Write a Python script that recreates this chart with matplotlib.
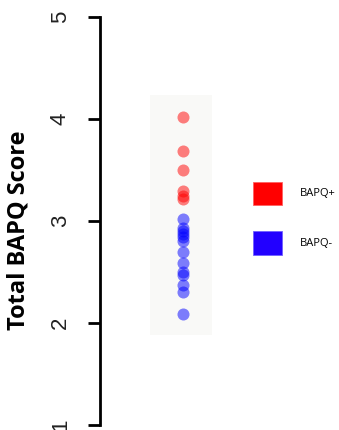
import matplotlib
matplotlib.use('Agg')
import matplotlib.pyplot as plt
from matplotlib.patches import Patch, Rectangle

# scores
pos_scores = [4.02, 3.69, 3.50, 3.29, 3.25, 3.22]
neg_scores = [3.02, 2.93, 2.90, 2.87, 2.84, 2.80, 2.70, 2.59, 2.50, 2.47, 2.37, 2.30, 2.09]
group_labels = ['BAPQ+', 'BAPQ-']
yticks = [1, 2, 3, 4, 5]

dpi = 100
fig = plt.figure(figsize=(339 / dpi, 430 / dpi), dpi=dpi)
ax = fig.add_axes([100 / 339, 5 / 430, 239 / 339, 408 / 430])

# faint box behind the dots
ax.add_patch(Rectangle((0.21, 1.88), 0.26, 2.36, color='#f9f9f7', zorder=0, lw=0))

x0 = 0.347
ax.scatter([x0] * len(pos_scores), pos_scores, s=75, color='#ff0000', alpha=0.5, lw=0, zorder=3)
ax.scatter([x0] * len(neg_scores), neg_scores, s=75, color='#0000ff', alpha=0.5, lw=0, zorder=3)

ax.set_xlim(0, 1)
ax.set_ylim(1, 5)
ax.set_yticks(yticks)
ax.set_yticklabels([str(t) for t in yticks], rotation=90, va='center',
                   fontsize=16, family='Liberation Sans', color='#222222')
ax.tick_params(axis='y', length=9, width=2, pad=12)
ax.set_xticks([])
for s in ['top', 'right', 'bottom']:
    ax.spines[s].set_visible(False)
ax.spines['left'].set_linewidth(2)
ax.spines['left'].set_bounds(1, 5)

ax.set_ylabel('Total BAPQ Score', fontsize=17, fontweight='bold', family='Open Sans')
ax.yaxis.set_label_coords(-0.29, 0.478)

handles = [Patch(facecolor='#ff0000', edgecolor='#ff6060', lw=0.6),
           Patch(facecolor='#2200ff', edgecolor='#7060ff', lw=0.6)]
leg = ax.legend(handles, group_labels, loc='center left', bbox_to_anchor=(0.6, 0.507),
                frameon=False, handlelength=2.6, handleheight=2.85, labelspacing=2.4,
                handletextpad=1.6, prop={'family': 'Open Sans', 'size': 8})

fig.savefig('out.png', dpi=dpi)
